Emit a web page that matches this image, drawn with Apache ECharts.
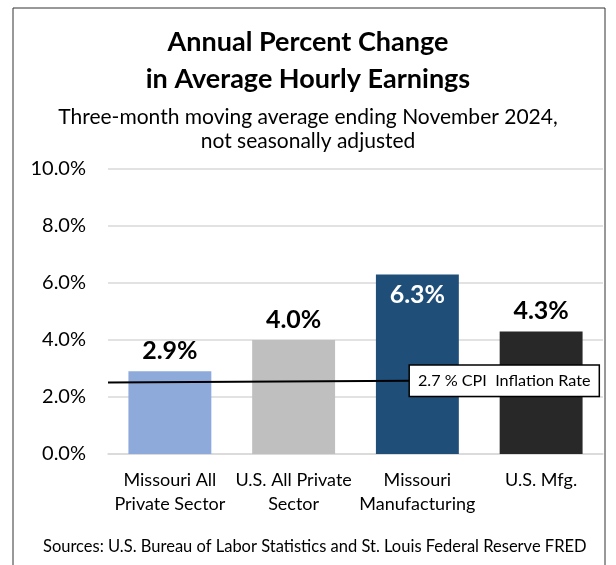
<!DOCTYPE html>
<html>
<head>
<meta charset="utf-8">
<script src="https://cdn.jsdelivr.net/npm/echarts@6/dist/echarts.min.js"></script>
<style>
  html, body { margin: 0; padding: 0; background: #fff; }
  #main { width: 616px; height: 565px; }
</style>
</head>
<body>
<div id="main"></div>
<script>
  // data
  var categories = ['Missouri All\nPrivate Sector', 'U.S. All Private\nSector', 'Missouri\nManufacturing', 'U.S. Mfg.'];
  var earnings = [2.9, 4.0, 6.3, 4.3];
  var barColors = ['#8eaadb', '#bfbfbf', '#1f4e79', '#282828'];
  // CPI line as drawn (x is % of plot width, y in %)
  var cpiLine = [[0, 2.51], [61, 2.57]];
  var cpiLabel = '2.7 % CPI  Inflation Rate';
  var yTicks = [0, 2, 4, 6, 8, 10];

  var font = 'Lato';

  var barData = earnings.map(function (v, i) {
    var item = { value: v, itemStyle: { color: barColors[i] } };
    // the tallest bar carries its label inside, in white
    if (i === 2) {
      item.label = { position: 'insideTop', color: '#fff', distance: 8 };
    }
    return item;
  });

  var option = {
    animation: false,
    backgroundColor: '#fff',
    textStyle: { fontFamily: font },
    title: [
      {
        text: 'Annual Percent Change\nin Average Hourly Earnings',
        left: 'center',
        top: 19,
        textStyle: { fontSize: 27, fontWeight: 'bold', color: '#000', lineHeight: 37, fontFamily: font }
      },
      {
        text: 'Three-month moving average ending November 2024,\nnot seasonally adjusted',
        left: 'center',
        top: 100,
        textStyle: { fontSize: 21, fontWeight: 'normal', color: '#000', lineHeight: 24, fontFamily: font }
      },
      {
        text: 'Sources: U.S. Bureau of Labor Statistics and St. Louis Federal Reserve FRED',
        left: 38,
        top: 533,
        textStyle: { fontSize: 16.5, fontWeight: 'normal', color: '#000', fontFamily: font }
      }
    ],
    graphic: [{
      type: 'rect',
      shape: { x: 13, y: 8, width: 592, height: 600 },
      style: { fill: 'none', stroke: '#333', lineWidth: 1 },
      silent: true
    }],
    grid: { left: 108, right: 13, top: 169, bottom: 111 },
    xAxis: [
      {
        type: 'category',
        data: categories,
        axisLine: { show: true, lineStyle: { color: '#d9d9d9', width: 1.5 } },
        axisTick: { show: false },
        axisLabel: { color: '#000', fontSize: 18, lineHeight: 24, margin: 14, interval: 0 }
      },
      // hidden axis that places the CPI line across the plot width
      { type: 'value', min: 0, max: 100, show: false }
    ],
    yAxis: {
      type: 'value',
      min: yTicks[0],
      max: yTicks[yTicks.length - 1],
      interval: 2,
      axisLine: { show: false },
      axisTick: { show: false },
      splitLine: { lineStyle: { color: '#d9d9d9', width: 1.5 } },
      axisLabel: {
        color: '#000',
        fontSize: 20,
        margin: 22,
        formatter: function (v) { return v.toFixed(1) + '%'; }
      }
    },
    series: [
      {
        type: 'bar',
        data: barData,
        barCategoryGap: '33%',
        label: {
          show: true,
          position: 'top',
          distance: 8,
          fontSize: 25,
          fontWeight: 'bold',
          color: '#000',
          formatter: function (p) { return p.value.toFixed(1) + '%'; }
        }
      },
      {
        type: 'line',
        xAxisIndex: 1,
        data: cpiLine,
        symbol: 'none',
        z: 5,
        lineStyle: { color: '#000', width: 2 },
        endLabel: {
          show: true,
          formatter: cpiLabel,
          distance: 0,
          color: '#000',
          fontSize: 16.2,
          backgroundColor: '#fff',
          borderColor: '#000',
          borderWidth: 1.5,
          padding: [7, 8]
        }
      }
    ]
  };

  var myChart = echarts.init(document.getElementById('main'));
  myChart.setOption(option);
</script>
</body>
</html>
